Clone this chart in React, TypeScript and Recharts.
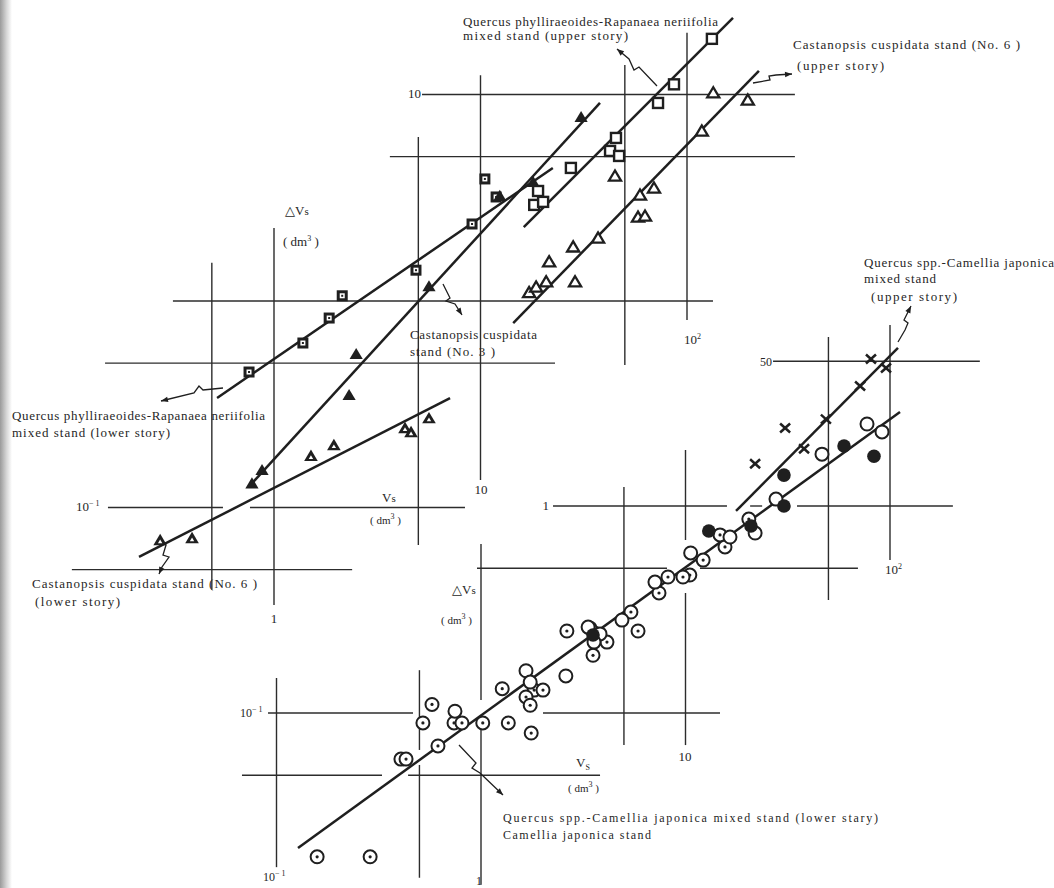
import { ScatterChart, Scatter, XAxis, YAxis, ReferenceLine } from "recharts";

const W = 1054;
const H = 888;
const ink = "#1f1f1f";
const serif = "'Liberation Serif', 'DejaVu Serif', serif";

type Pt = [number, number];
type Seg = [number, number, number, number];

// ---- upper-left frame: Vs (dm³) vs ΔVs (dm³) ----
const qrUpper: Pt[] = [
  [18.2, 2.92], [19.0, 3.41], [20.1, 3.02], [27.4, 4.41], [42.4, 5.33],
  [45.3, 6.16], [46.9, 5.04], [72.4, 9.1], [86.5, 11.2], [132, 18.6],
];
const qrLower: Pt[] = [
  [0.757, 0.453], [1.38, 0.626], [1.85, 0.827], [2.14, 1.06], [4.87, 1.41],
  [9.1, 2.36], [10.5, 3.9], [11.9, 3.19],
];
const cc3: Pt[] = [
  [0.782, 0.131], [0.875, 0.152], [2.31, 0.351], [2.5, 0.554], [5.63, 1.18],
  [12.4, 3.23], [18.0, 3.77], [30.7, 7.78],
];
const cc6Lower: Pt[] = [
  [0.281, 0.0696], [0.401, 0.0712], [1.51, 0.178], [1.95, 0.201],
  [4.31, 0.243], [4.61, 0.232], [5.63, 0.271],
];
const cc6Upper: Pt[] = [
  [17.2, 1.1], [18.6, 1.17], [20.8, 1.24], [21.5, 1.55], [28.1, 1.83],
  [28.7, 1.24], [37.1, 2.02], [44.8, 4.03], [59.2, 3.26], [69.2, 3.53],
  [57.9, 2.55], [62.6, 2.58], [118, 6.66], [134, 10.2], [197, 9.41],
];
// fitted lines, [x1, y1, x2, y2]
const fitsA: Seg[] = [
  [16.2, 2.28, 167, 23.5],
  [14.4, 0.782, 223, 13.0],
  [0.782, 0.131, 37.9, 9.1],
  [0.53, 0.339, 22.4, 4.41],
  [0.222, 0.0576, 7.12, 0.339],
];
const gridA: Seg[] = [
  [5.21, 10, 333, 10],
  [3.64, 5, 333, 5],
  [0.324, 1, 133.6, 1],
  [0.152, 0.5, 22.96, 0.5],
  [0.157, 0.1, 0.566, 0.1], [0.765, 0.1, 8.41, 0.1],
  [0.105, 0.05, 2.39, 0.05],
  [0.5, 1.53, 0.5, 0.04],
  [1, 2.26, 1, 0.0337],
  [5, 6.23, 5, 0.0658],
  [10, 12.4, 10, 0.136],
  [50, 13.9, 50, 0.49],
  [100, 19.9, 100, 0.81],
];

// ---- lower-right frame ----
const qcUpper: Pt[] = [
  [80.7, 5.13], [95.6, 4.64], [71.4, 3.8], [48.6, 2.63], [30.7, 2.38],
  [38.0, 1.89], [21.9, 1.6],
];
const qcFilled: Pt[] = [
  [59.6, 1.95], [83.5, 1.74], [30.3, 1.41], [30.3, 1.0], [13.0, 0.757],
  [20.9, 0.8], [3.53, 0.238],
];
const camelliaOpen: Pt[] = [
  [77.2, 2.49], [91.4, 2.28], [46.5, 1.78], [27.7, 1.08], [21.9, 0.74],
  [16.5, 0.708], [10.6, 0.593], [7.09, 0.429], [4.89, 0.281], [3.34, 0.26],
  [3.82, 0.241], [3.57, 0.22], [1.66, 0.16], [1.74, 0.141], [2.6, 0.151],
  [0.746, 0.102],
];
const qcLower: Pt[] = [
  [20.4, 0.865], [14.75, 0.725], [15.6, 0.634], [12.2, 0.548], [10.5, 0.464],
  [9.72, 0.454], [8.21, 0.454], [7.42, 0.38], [5.41, 0.3075], [5.86, 0.249],
  [2.63, 0.249], [4.13, 0.22], [3.53, 0.19], [3.61, 0.243], [3.41, 0.257],
  [1.27, 0.131], [1.82, 0.129], [2.01, 0.129], [1.66, 0.1195], [1.74, 0.109],
  [0.576, 0.11], [0.52, 0.0895], [0.738, 0.0895], [0.807, 0.0895], [1.02, 0.0895],
  [1.36, 0.0895], [1.76, 0.08], [0.616, 0.0693], [0.406, 0.0599], [0.43, 0.0599],
  [0.158, 0.0202], [0.287, 0.0202],
];
const fitsB: Seg[] = [
  [0.1274, 0.02228, 111.9, 2.845],
  [17.66, 0.946, 109.4, 5.8],
];
const gridB: Seg[] = [
  [26.8, 5, 275, 5],
  [2.25, 1, 15.95, 1], [20.7, 1, 23.7, 1], [35.1, 1, 203, 1],
  [0.956, 0.5, 8.12, 0.5], [11.77, 0.5, 69.7, 0.5],
  [0.0909, 0.1, 0.465, 0.1], [2.01, 0.1, 14.75, 0.1],
  [0.0678, 0.05, 0.328, 0.05], [0.44, 0.05, 3.82, 0.05],
  [0.1, 0.1476, 0.1, 0.018],
  [0.5, 0.161, 0.5, 0.0663], [0.5, 0.0561, 0.5, 0.016],
  [1, 0.655, 1, 0.1156], [1, 0.0978, 1, 0.0148],
  [5, 1.235, 5, 0.07],
  [10, 1.865, 10, 0.685], [10, 0.38, 10, 0.07],
  [50, 6.55, 50, 0.3515],
  [100, 7.49, 100, 0.548],
];

// pixel placement of x=1 / y=1 and decade length for each frame
const frameA = { x1: 274, y1: 301, decX: 206.5, decY: 206.5 };
const frameB = { x1: 481, y1: 506, decX: 204.5, decY: 207 };
const domX = (f: typeof frameA): [number, number] => {
  const lo = -f.x1 / f.decX;
  return [10 ** lo, 10 ** (lo + W / f.decX)];
};
const domY = (f: typeof frameA): [number, number] => {
  const hi = f.y1 / f.decY;
  return [10 ** (hi - H / f.decY), 10 ** hi];
};

const pts = (a: Pt[]) => a.map(([x, y]) => ({ x, y }));

type DotProps = { cx?: number; cy?: number };

function OpenSquare({ cx = 0, cy = 0 }: DotProps) {
  return <rect x={cx - 5} y={cy - 5} width={10} height={10} fill="#fff" stroke={ink} strokeWidth={2.4} />;
}
function BoxSquare({ cx = 0, cy = 0 }: DotProps) {
  return (
    <g>
      <rect x={cx - 5.5} y={cy - 5.5} width={11} height={11} fill={ink} />
      <rect x={cx - 2.5} y={cy - 2.5} width={5} height={5} fill="#fff" />
      <rect x={cx - 1} y={cy - 1} width={2} height={2} fill={ink} />
    </g>
  );
}
const tri = (cx: number, cy: number, s: number) =>
  `${cx},${cy - s} ${cx - s * 1.1},${cy + s * 0.85} ${cx + s * 1.1},${cy + s * 0.85}`;
function OpenTri({ cx = 0, cy = 0 }: DotProps) {
  return <polygon points={tri(cx, cy, 5.5)} fill="#fff" stroke={ink} strokeWidth={2.3} strokeLinejoin="miter" />;
}
function SolidTri({ cx = 0, cy = 0 }: DotProps) {
  return <polygon points={tri(cx, cy, 6)} fill={ink} />;
}
function SpeckTri({ cx = 0, cy = 0 }: DotProps) {
  return (
    <g>
      <polygon points={tri(cx, cy, 6.2)} fill={ink} />
      <polygon points={tri(cx, cy + 1.5, 2)} fill="#fff" />
    </g>
  );
}
function Cross({ cx = 0, cy = 0 }: DotProps) {
  return (
    <g stroke={ink} strokeWidth={2.5}>
      <line x1={cx - 5} y1={cy - 4.5} x2={cx + 5} y2={cy + 4.5} />
      <line x1={cx - 5} y1={cy + 4.5} x2={cx + 5} y2={cy - 4.5} />
    </g>
  );
}
function OpenCircle({ cx = 0, cy = 0 }: DotProps) {
  return <circle cx={cx} cy={cy} r={6.5} fill="#fff" stroke={ink} strokeWidth={2} />;
}
function DotCircle({ cx = 0, cy = 0 }: DotProps) {
  return (
    <g>
      <circle cx={cx} cy={cy} r={6.5} fill="#fff" stroke={ink} strokeWidth={2} />
      <circle cx={cx} cy={cy} r={1.6} fill={ink} />
    </g>
  );
}
function SolidCircle({ cx = 0, cy = 0 }: DotProps) {
  return <circle cx={cx} cy={cy} r={6.8} fill={ink} />;
}

function Squiggle({ p }: { p: number[][] }) {
  const [x1, y1] = p[p.length - 2];
  const [x2, y2] = p[p.length - 1];
  const a = Math.atan2(y2 - y1, x2 - x1);
  const bx = x2 - 7 * Math.cos(a);
  const by = y2 - 7 * Math.sin(a);
  const s = Math.sin(a) * 2.8;
  const c = Math.cos(a) * 2.8;
  return (
    <g>
      <polyline points={p.map((q) => q.join(",")).join(" ")} fill="none" stroke={ink} strokeWidth={1.3} />
      <polygon points={`${x2},${y2} ${bx + s},${by - c} ${bx - s},${by + c}`} fill={ink} />
    </g>
  );
}

function T({ x, y, len, anchor, size = 13, children }: {
  x: number; y: number; len?: number; anchor?: "start" | "middle" | "end"; size?: number; children: React.ReactNode;
}) {
  return (
    <text x={x} y={y} fontSize={size} fill="#262626" fontFamily={serif} textAnchor={anchor}
      textLength={len} lengthAdjust={len ? "spacing" : undefined}>
      {children}
    </text>
  );
}
const Exp = ({ v }: { v: string }) => <tspan dy={-5} fontSize={8}>{v}</tspan>;

export default function App() {
  const segLines = (segs: Seg[], id: string, width: number, color: string) =>
    segs.map(([x1, y1, x2, y2], i) => (
      <ReferenceLine key={`${id}${width}${i}`} xAxisId={id} yAxisId={id}
        segment={[{ x: x1, y: y1 }, { x: x2, y: y2 }]} stroke={color} strokeWidth={width} ifOverflow="visible" />
    ));

  return (
    <div style={{ position: "absolute", left: 0, top: 0, width: W, height: H, background: "#fff", overflow: "hidden" }}>
      <div style={{ position: "absolute", left: 0, top: 0, width: 12, height: H,
        background: "linear-gradient(to right, #9a9a9a, #d6d6d6 55%, rgba(255,255,255,0))" }} />
      <ScatterChart width={W} height={H} margin={{ top: 0, right: 0, bottom: 0, left: 0 }}>
        <XAxis xAxisId="a" dataKey="x" type="number" scale="log" domain={domX(frameA)} allowDataOverflow hide />
        <YAxis yAxisId="a" dataKey="y" type="number" scale="log" domain={domY(frameA)} allowDataOverflow hide />
        <XAxis xAxisId="b" dataKey="x" type="number" scale="log" domain={domX(frameB)} allowDataOverflow hide />
        <YAxis yAxisId="b" dataKey="y" type="number" scale="log" domain={domY(frameB)} allowDataOverflow hide />

        {segLines(gridA, "a", 1.4, "#2c2c2c")}
        {segLines(gridB, "b", 1.4, "#2c2c2c")}
        {segLines(fitsA, "a", 2.5, ink)}
        {segLines(fitsB, "b", 2.5, ink)}

        <Scatter xAxisId="a" yAxisId="a" data={pts(qrUpper)} shape={OpenSquare} isAnimationActive={false} />
        <Scatter xAxisId="a" yAxisId="a" data={pts(qrLower)} shape={BoxSquare} isAnimationActive={false} />
        <Scatter xAxisId="a" yAxisId="a" data={pts(cc3)} shape={SolidTri} isAnimationActive={false} />
        <Scatter xAxisId="a" yAxisId="a" data={pts(cc6Lower)} shape={SpeckTri} isAnimationActive={false} />
        <Scatter xAxisId="a" yAxisId="a" data={pts(cc6Upper)} shape={OpenTri} isAnimationActive={false} />

        <Scatter xAxisId="b" yAxisId="b" data={pts(qcLower)} shape={DotCircle} isAnimationActive={false} />
        <Scatter xAxisId="b" yAxisId="b" data={pts(camelliaOpen)} shape={OpenCircle} isAnimationActive={false} />
        <Scatter xAxisId="b" yAxisId="b" data={pts(qcFilled)} shape={SolidCircle} isAnimationActive={false} />
        <Scatter xAxisId="b" yAxisId="b" data={pts(qcUpper)} shape={Cross} isAnimationActive={false} />
      </ScatterChart>

      <svg width={W} height={H} style={{ position: "absolute", left: 0, top: 0, pointerEvents: "none" }}>
        {/* upper-left frame */}
        <T x={463} y={26} len={255}>Quercus phylliraeoides-Rapanaea neriifolia</T>
        <T x={463} y={40} len={165}>mixed stand (upper story)</T>
        <T x={793} y={49} len={227}>Castanopsis cuspidata stand (No. 6 )</T>
        <T x={797} y={70} len={87}>(upper story)</T>
        <T x={285} y={215}>△V<tspan fontSize={11}>s</tspan></T>
        <T x={283} y={246}>( dm<Exp v="3" /><tspan dy={5}> )</tspan></T>
        <T x={410} y={339} len={127}>Castanopsis cuspidata</T>
        <T x={410} y={356} len={85}>stand (No. 3 )</T>
        <T x={12} y={420} len={253}>Quercus phylliraeoides-Rapanaea neriifolia</T>
        <T x={12} y={437} len={158}>mixed stand (lower story)</T>
        <T x={32} y={588} len={225}>Castanopsis cuspidata stand (No. 6 )</T>
        <T x={35} y={606} len={85}>(lower story)</T>
        <T x={382} y={502}>V<tspan fontSize={11}>s</tspan></T>
        <T x={370} y={524} size={11}>( dm<Exp v="3" /><tspan dy={5}>   )</tspan></T>

        <T x={421} y={98} anchor="end">10</T>
        <T x={76} y={511}>10<Exp v="− 1" /></T>
        <T x={274} y={623} anchor="middle">1</T>
        <T x={481} y={494} anchor="middle">10</T>
        <T x={684} y={344}>10<Exp v="2" /></T>

        <Squiggle p={[[657, 86], [639, 67], [634, 70], [629, 59], [617, 49]]} />
        <Squiggle p={[[753, 83], [770, 80], [769, 76], [776, 75], [792, 74]]} />
        <Squiggle p={[[443, 284], [450, 298], [446, 301], [455, 304], [462, 315]]} />
        <Squiggle p={[[223, 388], [203, 390], [199, 386], [194, 393], [161, 401]]} />
        <Squiggle p={[[166, 545], [163, 555], [169, 557], [162, 567], [159, 574]]} />

        {/* lower-right frame */}
        <T x={864} y={267} len={190}>Quercus spp.-Camellia japonica</T>
        <T x={864} y={283} len={72}>mixed stand</T>
        <T x={871} y={301} len={86}>(upper story)</T>
        <T x={772} y={366} anchor="end" size={12}>50</T>
        <T x={549} y={510} anchor="end">1</T>
        <T x={452} y={594}>△V<tspan fontSize={11}>s</tspan></T>
        <T x={441} y={624} size={11}>( dm<Exp v="3" /><tspan dy={5}> )</tspan></T>
        <T x={240} y={717} size={12}>10<Exp v="− 1" /></T>
        <T x={885} y={574}>10<Exp v="2" /></T>
        <T x={685} y={761} anchor="middle">10</T>
        <T x={576} y={767}>V<tspan dy={3} fontSize={8}>S</tspan></T>
        <T x={568} y={792} size={11}>( dm<Exp v="3" /><tspan dy={5}> )</tspan></T>
        <T x={503} y={822} len={375} size={12}>Quercus spp.-Camellia japonica mixed stand (lower stary)</T>
        <T x={503} y={839} len={148} size={12}>Camellia japonica stand</T>
        <T x={263} y={881} size={12}>10<Exp v="− 1" /></T>
        <T x={479} y={885} anchor="middle" size={12}>1</T>

        <Squiggle p={[[898, 342], [905, 330], [908, 323], [904, 320], [911, 306]]} />
        <Squiggle p={[[459, 745], [476, 763], [472, 768], [480, 773], [503, 795]]} />
      </svg>
    </div>
  );
}
